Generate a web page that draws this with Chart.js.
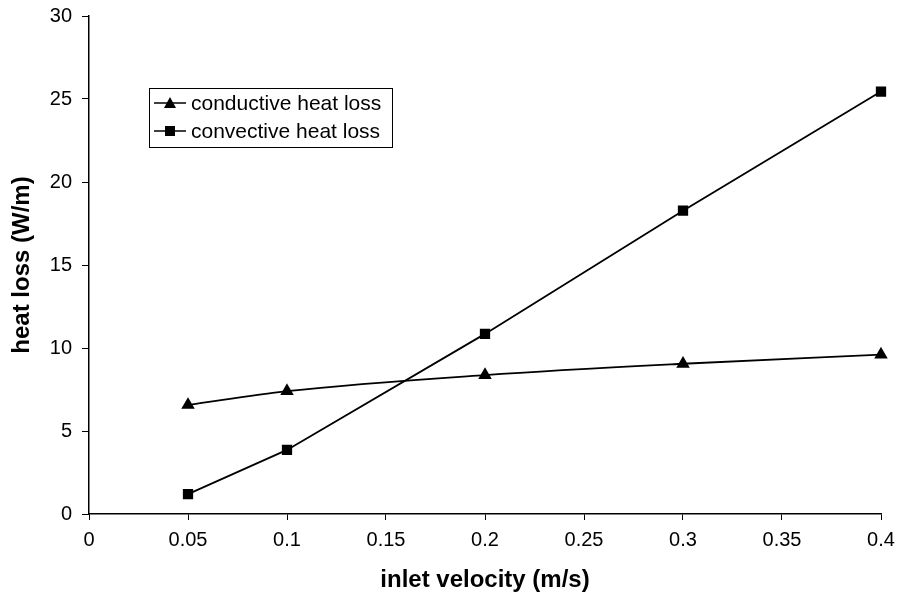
<!DOCTYPE html>
<html>
<head>
<meta charset="utf-8">
<script src="https://cdn.jsdelivr.net/npm/chart.js@4/dist/chart.umd.min.js"></script>
<style>
  body { margin: 0; background: #fff; }
</style>
</head>
<body>
<canvas id="heatChart" width="900" height="599"></canvas>
<script>
const velocity = [0.05, 0.1, 0.2, 0.3, 0.4];
const conductive = [6.57, 7.4, 8.37, 9.05, 9.6];
const convective = [1.2, 3.86, 10.85, 18.27, 25.45];
const xTitle = "inlet velocity (m/s)";
const yTitle = "heat loss (W/m)";

const ctx = document.getElementById("heatChart").getContext("2d");

// legend box drawn inside the plot, like the original
const boxLegend = {
  id: "boxLegend",
  afterDraw(chart) {
    const c = chart.ctx;
    const x = 149, y = 88, w = 243, h = 59;
    c.save();
    c.strokeStyle = "#000";
    c.lineWidth = 1;
    c.strokeRect(x + 0.5, y + 0.5, w, h);
    c.font = "21px 'Liberation Sans', Arial, sans-serif";
    c.textBaseline = "middle";
    chart.data.datasets.forEach((ds, i) => {
      const ly = y + 15 + i * 28;
      c.lineWidth = 1.5;
      c.beginPath();
      c.moveTo(x + 5, ly);
      c.lineTo(x + 37, ly);
      c.stroke();
      c.fillStyle = "#000";
      c.beginPath();
      if (ds.pointStyle === "triangle") {
        c.moveTo(x + 21, ly - 6);
        c.lineTo(x + 27, ly + 5);
        c.lineTo(x + 15, ly + 5);
        c.closePath();
      } else {
        c.rect(x + 16, ly - 5, 10, 10);
      }
      c.fill();
      c.fillText(ds.label, x + 42, ly + 1);
    });
    c.restore();
  },
};

const tickFont = { family: "'Liberation Sans', Arial, sans-serif", size: 20 };
const titleFont = { family: "'Liberation Sans', Arial, sans-serif", size: 24, weight: "bold" };

new Chart(ctx, {
  type: "line",
  data: {
    labels: velocity,
    datasets: [
      {
        label: "conductive heat loss",
        data: velocity.map((v, i) => ({ x: v, y: conductive[i] })),
        borderColor: "#000",
        backgroundColor: "#000",
        borderWidth: 1.8,
        pointStyle: "triangle",
        pointRadius: 6,
        tension: 0.35,
        cubicInterpolationMode: "monotone",
        clip: false,
      },
      {
        label: "convective heat loss",
        data: velocity.map((v, i) => ({ x: v, y: convective[i] })),
        borderColor: "#000",
        backgroundColor: "#000",
        borderWidth: 1.8,
        pointStyle: "rect",
        pointRadius: 6,
        tension: 0,
        clip: false,
      },
    ],
  },
  options: {
    responsive: false,
    animation: false,
    layout: { padding: { top: 16, right: 19, left: 0, bottom: 0 } },
    plugins: { legend: { display: false }, tooltip: { enabled: false } },
    scales: {
      x: {
        type: "linear",
        min: 0,
        max: 0.4,
        ticks: {
          stepSize: 0.05,
          color: "#000",
          font: tickFont,
          padding: 8,
          callback: (v) => Number(v.toFixed(2)).toString(),
        },
        grid: { drawOnChartArea: false, drawTicks: true, tickLength: 6, color: "#000" },
        border: { color: "#000", width: 1.5 },
        title: { display: true, text: xTitle, color: "#000", font: titleFont, padding: { top: 12 } },
        afterFit: (s) => { s.height = 85; s.paddingRight = 0; s.paddingLeft = 0; },
      },
      y: {
        min: 0,
        max: 30,
        ticks: { stepSize: 5, color: "#000", font: tickFont, padding: 10 },
        grid: { drawOnChartArea: false, drawTicks: true, tickLength: 7, color: "#000" },
        border: { color: "#000", width: 1.5 },
        title: { display: true, text: yTitle, color: "#000", font: titleFont, padding: { top: 8, bottom: 10 } },
        afterFit: (s) => { s.width = 89; s.paddingTop = 0; s.paddingBottom = 0; },
      },
    },
  },
  plugins: [boxLegend],
});
</script>
</body>
</html>
